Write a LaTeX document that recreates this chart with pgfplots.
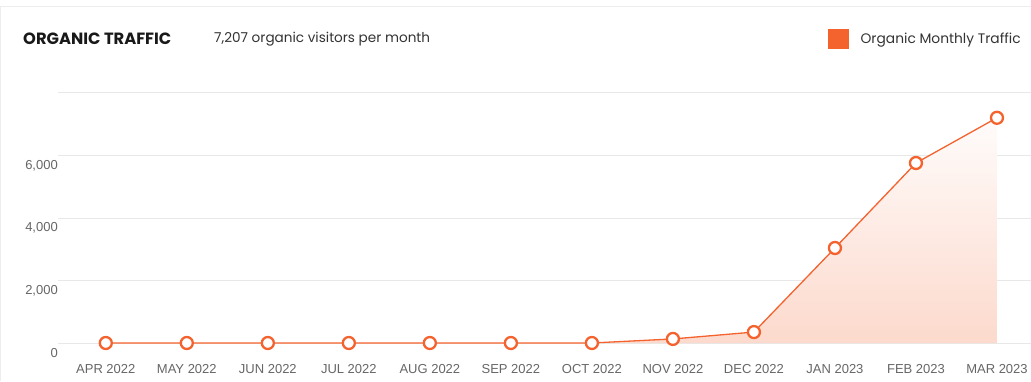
\documentclass[border=0pt]{standalone}
\usepackage{fontspec}
\setmainfont{Liberation Sans}
\newfontfamily\headfont{Poppins}
\usepackage{pgfplots}
\pgfplotsset{compat=1.18}
\definecolor{orng}{HTML}{F4622E}
\definecolor{gridc}{HTML}{E8E8E8}
\definecolor{tickc}{HTML}{666666}
\begin{document}
\begin{tikzpicture}[x=1pt,y=1pt]
\path[use as bounding box] (0,0) rectangle (1031,381);
\draw[gridc!80, line width=1pt] (0.5,0) -- (0.5,374.5) -- (1031,374.5);
\node[anchor=west, inner sep=0pt, font=\headfont\bfseries\fontsize{16.3}{19}\selectfont, text=black!90] at (23,342) {ORGANIC TRAFFIC};
\node[anchor=west, inner sep=0pt, font=\headfont\fontsize{13.6}{16}\selectfont, text=black!80] at (214,342) {7,207 organic visitors per month};
\begin{axis}[
  at={(58pt,38pt)}, anchor=south west, scale only axis,
  width=973pt, height=250pt,
  xmin=-0.59, xmax=11.42, ymin=0, ymax=8000,
  axis line style={draw=none}, major tick length=0pt,
  ymajorgrids, grid style={gridc, line width=1pt},
  xtick={0,...,11},
  xticklabels={APR 2022,MAY 2022,JUN 2022,JUL 2022,AUG 2022,SEP 2022,OCT 2022,NOV 2022,DEC 2022,JAN 2023,FEB 2023,MAR 2023},
  ytick={0,2000,4000,6000,8000},
  yticklabels={0,{2,000},{4,000},{6,000},{}},
  tick label style={font=\fontsize{13}{15}\selectfont, text=tickc},
  xticklabel style={anchor=north, inner sep=0pt, yshift=-21pt},
  yticklabel style={anchor=east, inner sep=0pt, xshift=0pt, yshift=-10pt},
  clip=false,
  legend style={at={(0.791,1.216)}, anchor=west, draw=none, fill=none, inner sep=0pt,
    font=\headfont\fontsize{13.8}{16}\selectfont, text=black!80},
  legend cell align=left,
  legend image code/.code={\fill[orng] (0pt,-10pt) rectangle (19.5pt,9.5pt);},
]
\addplot[draw=none, top color=orng!2, bottom color=orng!24, forget plot] table {
x y
0 0
1 0
2 0
3 0
4 0
5 0
6 0
7 130
8 350
9 3040
10 5760
11 7207
} \closedcycle;
\addplot[orng, line width=1.3pt, mark=*, mark size=6pt, mark options={fill=white, draw=orng, line width=2.3pt}] table {
x y
0 0
1 0
2 0
3 0
4 0
5 0
6 0
7 130
8 350
9 3040
10 5760
11 7207
};
\addlegendentry{\hspace{10pt}Organic Monthly Traffic}
\end{axis}
\end{tikzpicture}
\end{document}
